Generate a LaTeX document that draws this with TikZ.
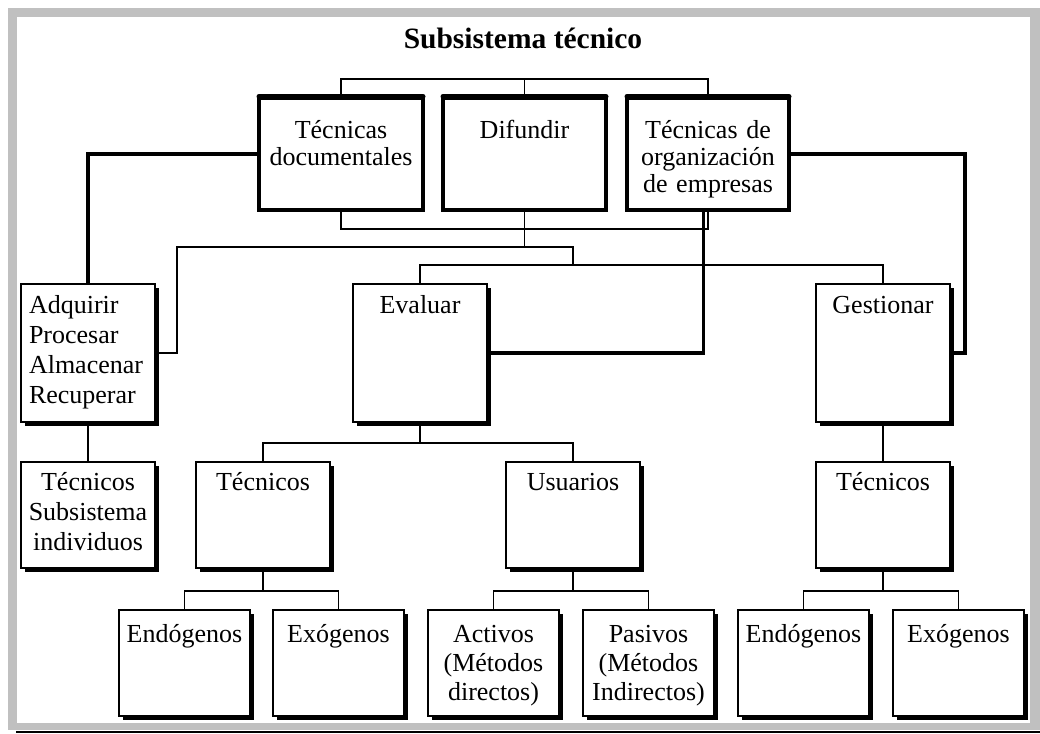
\documentclass[tikz,border=0pt]{standalone}
\usepackage{fontspec}
\setmainfont{Liberation Serif}
\usetikzlibrary{shadows,calc}
\definecolor{framegray}{RGB}{192,192,192}
\begin{document}
\begin{tikzpicture}[x=1pt,y=-1pt,
  conn/.style={line width=1.4pt},
  thickconn/.style={line width=3.3pt},
  topbox/.style={draw, line width=3.3pt, fill=white, inner sep=0pt, outer sep=0pt,
    anchor=north west, align=center, font=\fontsize{26}{27}\selectfont,
    text height=40pt, text depth=72pt},
  topbar/.style={line width=5pt, line cap=round},
  box/.style={draw, line width=1.4pt, fill=white, inner sep=0pt, outer sep=0pt,
    anchor=north west, align=center,
    drop shadow={shadow xshift=4pt, shadow yshift=-4pt, fill=black, opacity=1}},
  midbox/.style={box, text width=134pt, text height=29pt, text depth=109pt,
    font=\fontsize{26}{30}\selectfont},
  lowbox/.style={box, text width=134pt, text height=28pt, text depth=78pt,
    font=\fontsize{26}{30}\selectfont},
  leafbox/.style={box, text width=131pt, text height=32pt, text depth=74pt,
    font=\fontsize{26}{29}\selectfont}
]
\useasboundingbox (0,0) rectangle (1040,733);
% frame
\fill[framegray] (8,8) rectangle (1040,730);
\fill[white] (17,17) rectangle (1030,723);
\coordinate (bl) at (16,732);
\coordinate (br) at (1040,732);
\draw[line width=1.2pt] (bl) -- (br);

% title
\node[font=\bfseries\fontsize{29.5}{34}\selectfont, anchor=base, inner sep=0pt] (title) at (523,49) {Subsistema técnico};

% top row
\node[topbox, text width=164pt] (td) at (259,98) {Técnicas\\documentales};
\node[topbox, text width=163pt] (dif) at (443,98) {Difundir};
\node[topbox, text width=162pt] (to) at (627,98) {Técnicas de\\organización\\de empresas};
\foreach \n in {td,dif,to}
  \draw[topbar] ([yshift=1.5pt]\n.north west) -- ([yshift=1.5pt]\n.north east);

% middle row
\node[midbox, align=left, inner xsep=8pt, text width=118pt] (adq) at (21,284) {Adquirir\\Procesar\\Almacenar\\Recuperar};
\node[midbox] (eval) at (353,284) {Evaluar};
\node[midbox] (gest) at (816,284) {Gestionar};

% third row
\node[lowbox] (ts) at (21,462) {Técnicos\\Subsistema\\individuos};
\node[lowbox] (t2) at (196,462) {Técnicos};
\node[lowbox] (us) at (506,462) {Usuarios};
\node[lowbox] (t3) at (816,462) {Técnicos};

% bottom row
\node[leafbox] (e1) at (119,610) {Endógenos};
\node[leafbox] (x1) at (273,610) {Exógenos};
\node[leafbox] (ac) at (428,610) {Activos\\(Métodos\\directos)};
\node[leafbox] (pa) at (583,610) {Pasivos\\(Métodos\\Indirectos)};
\node[leafbox] (e2) at (738,610) {Endógenos};
\node[leafbox] (x2) at (893,610) {Exógenos};

% thin connectors, top
\draw[conn] (td.north) -- ++(0,-19) -| (to.north);
\draw[conn] (dif.north) -- ++(0,-19);
\draw[conn] (td.south) -- ++(0,19) -| (to.south);
\draw[conn] (dif.south) -- ++(0,37);
\coordinate (jl) at (177,247);
\coordinate (jr) at (573,247);
\coordinate (jm) at (573,265);
\draw[conn] (adq.east) -| (jl) -- (jr) -- (jm);
\draw[conn] (eval.north) |- (jm) -| (gest.north);

% thick connectors
\draw[thickconn] (td.west) -| (adq.north);
\draw[thickconn] (to.east) -| ([xshift=15pt]gest.east) -- (gest.east);
\draw[thickconn] ([xshift=-4.5pt]to.south) |- (eval.east);

% lower connectors
\draw[conn] (adq.south) -- (ts.north);
\draw[conn] (gest.south) -- (t3.north);
\draw[conn] (eval.south) -- ++(0,21) coordinate (ev1);
\draw[conn] (t2.north) |- (ev1) -| (us.north);
\draw[conn] (t2.south) -- ++(0,23) coordinate (c1);
\draw[conn] (e1.north) |- (c1) -| (x1.north);
\draw[conn] (us.south) -- ++(0,23) coordinate (c2);
\draw[conn] (ac.north) |- (c2) -| (pa.north);
\draw[conn] (t3.south) -- ++(0,23) coordinate (c3);
\draw[conn] (e2.north) |- (c3) -| (x2.north);
\end{tikzpicture}
\end{document}
